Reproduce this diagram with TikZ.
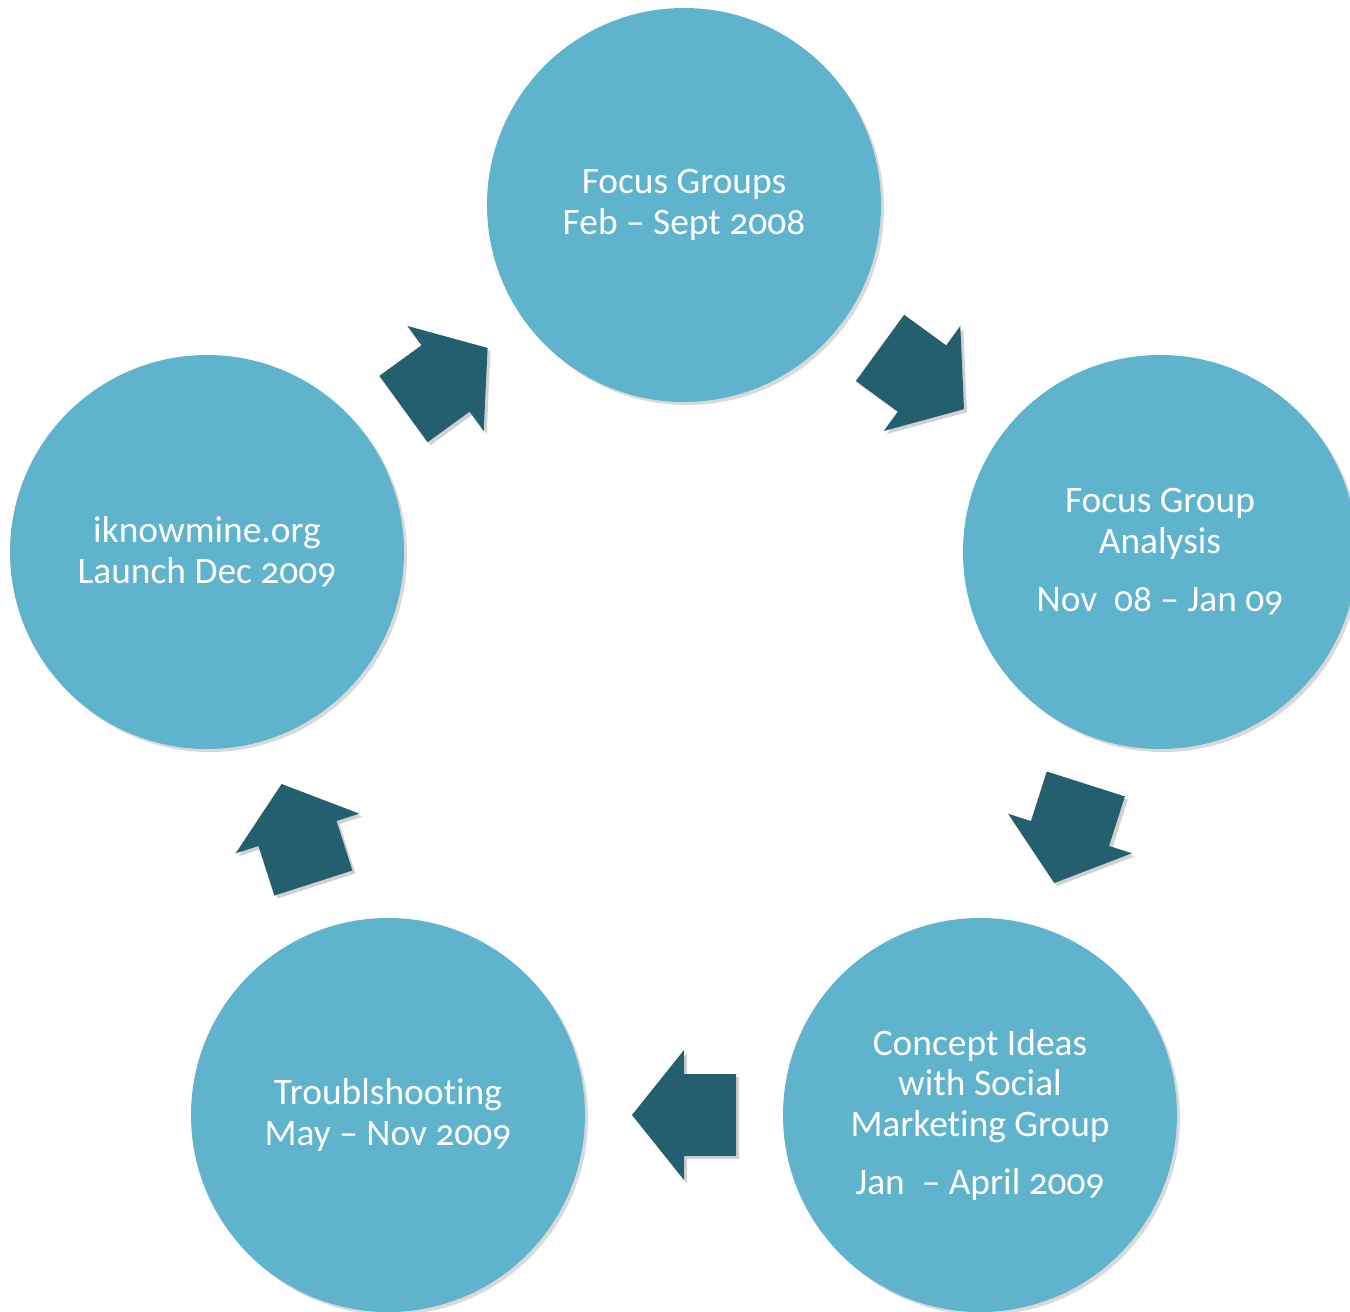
\documentclass[tikz,border=0pt]{standalone}
\usepackage{fontspec}
\setmainfont{Carlito}[Numbers=OldStyle,Ligatures=NoCommon]
\usetikzlibrary{calc,shadows}
\definecolor{circfill}{RGB}{96,179,204}
\definecolor{arrowfill}{RGB}{36,95,112}
\newcommand\cyclearrow[3]{%
  \fill[arrowfill, drop shadow={shadow xshift=1.5pt, shadow yshift=-1.5pt, opacity=0.18, fill=black},
        shift={($(#1)!0.5!(#2)$)}, rotate=#3]
    (-52,-41) -- (0,-41) -- (0,-65) -- (52,0) -- (0,65) -- (0,41) -- (-52,41) -- cycle;}
\begin{document}
\begin{tikzpicture}[x=0.5pt,y=-0.5pt,
  stage/.style={circle, fill=circfill, minimum size=197pt, inner sep=0pt,
    text=white, align=center, font=\fontsize{18.7}{20.3}\selectfont,
    drop shadow={shadow xshift=1.5pt, shadow yshift=-1.5pt, opacity=0.15, fill=black}}]
\useasboundingbox (0,0) rectangle (1350,1312);
\clip (0,0) rectangle (1350,1312);
\node[stage] (top) at (684,205) {Focus Groups\\Feb – Sept 2008};
\node[stage] (right) at (1160,552) {Focus Group\\Analysis\\[9pt]Nov\ \ 08 – Jan 09};
\node[stage] (br) at (980,1115) {Concept Ideas\\with Social\\Marketing Group\\[9pt]Jan\ \ – April 2009};
\node[stage] (bl) at (388,1115) {Troublshooting\\May – Nov 2009};
\node[stage] (left) at (207,552) {iknowmine.org\\Launch Dec 2009};
\cyclearrow{top}{right}{-36.1}
\cyclearrow{right}{br}{-107.7}
\cyclearrow{br}{bl}{180}
\cyclearrow{bl}{left}{107.8}
\cyclearrow{left}{top}{36.0}
\end{tikzpicture}
\end{document}
